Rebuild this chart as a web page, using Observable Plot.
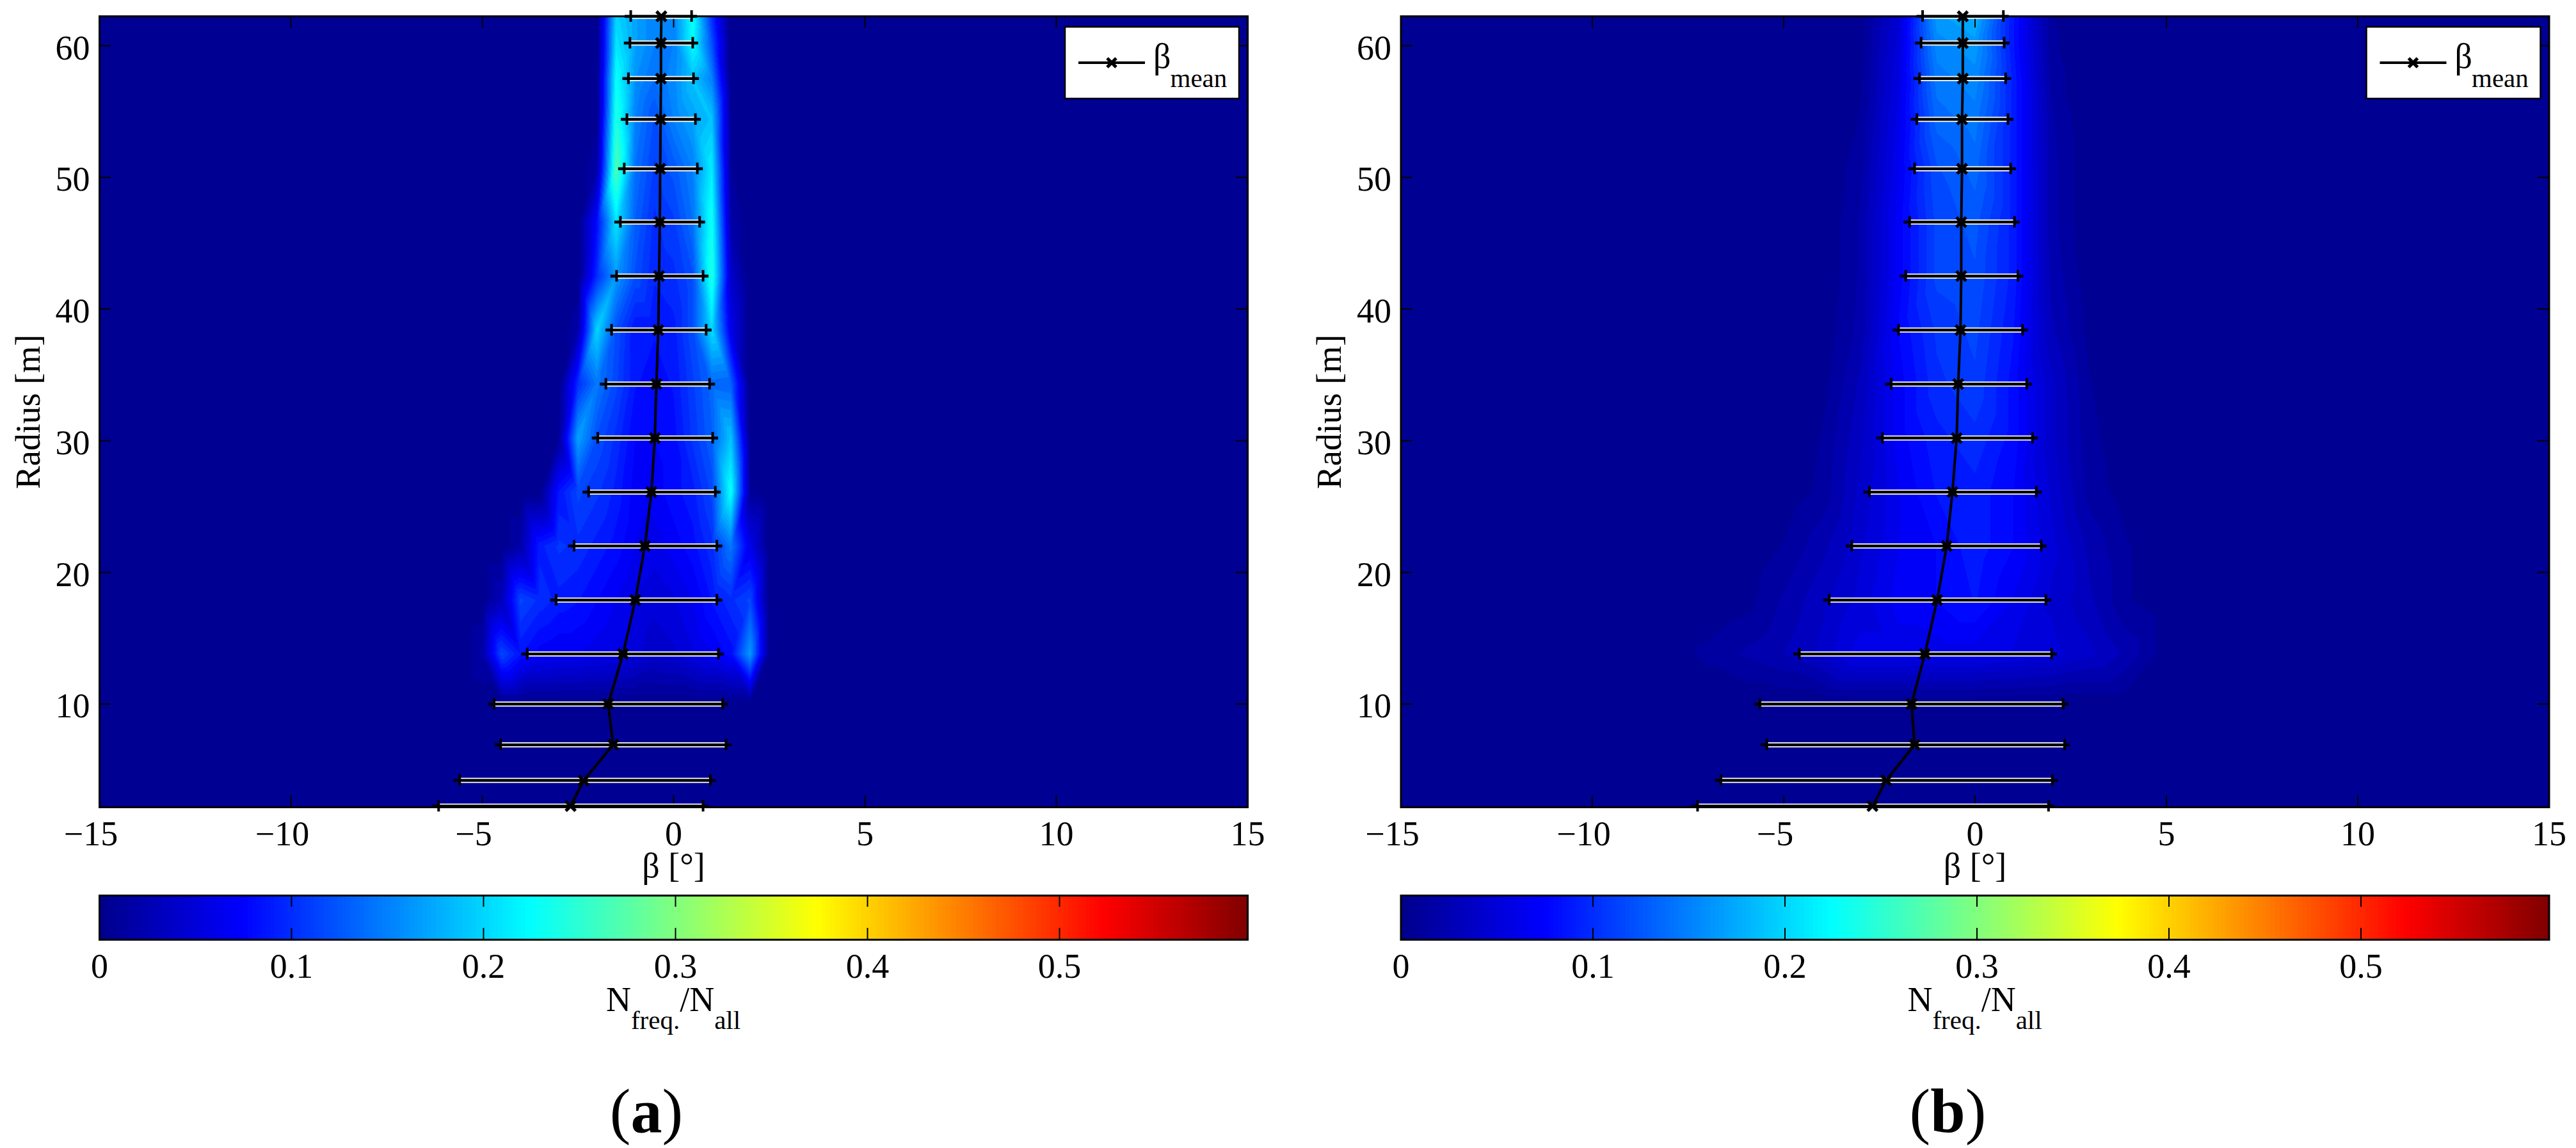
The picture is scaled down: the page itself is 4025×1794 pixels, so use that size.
<!DOCTYPE html>
<html>
<head>
<meta charset="utf-8">
<script src="https://cdn.jsdelivr.net/npm/d3@7"></script>
<script src="https://cdn.jsdelivr.net/npm/@observablehq/plot@0.6"></script>
<style>
  html, body { margin: 0; padding: 0; background: #fff; }
  #page { position: relative; width: 4025px; height: 1794px; overflow: hidden; background: #fff;
          font-family: "Liberation Serif", serif; color: #000; }
  .panel { position: absolute; top: 0; width: 1991px; height: 1794px; }
  .panel svg { position: absolute; left: 0; overflow: visible; }
  .nlabel { position: absolute; top: 1535px; font-size: 54px; line-height: 54px; text-align: center; white-space: nowrap; }
  .nlabel span { font-size: 41px; line-height: 0; vertical-align: -28px; }
  .cap { position: absolute; top: 1687px; font-size: 98px; line-height: 98px; text-align: center; white-space: nowrap; }
</style>
</head>
<body>
<div id="page"></div>
<script>
// ---------- data ----------
const radii = [62.23,60.2,57.5,54.4,50.65,46.6,42.5,38.4,34.3,30.2,26.1,22,17.9,13.8,10,6.9,4.2,2.25];

const meanA = [-0.32,-0.33,-0.33,-0.34,-0.35,-0.36,-0.38,-0.40,-0.45,-0.49,-0.58,-0.75,-1.00,-1.32,-1.71,-1.58,-2.35,-2.69];
const lowA  = [-1.12,-1.14,-1.18,-1.22,-1.29,-1.39,-1.49,-1.62,-1.77,-1.98,-2.22,-2.60,-3.07,-3.82,-4.69,-4.52,-5.59,-6.14];
const highA = [0.47,0.50,0.52,0.57,0.62,0.68,0.77,0.85,0.94,1.02,1.09,1.13,1.13,1.17,1.28,1.37,0.96,0.77];

const meanB = [-0.32,-0.32,-0.32,-0.34,-0.34,-0.36,-0.36,-0.38,-0.44,-0.48,-0.59,-0.74,-0.99,-1.31,-1.66,-1.58,-2.32,-2.68];
const lowB  = [-1.37,-1.41,-1.45,-1.52,-1.58,-1.71,-1.81,-2.00,-2.19,-2.42,-2.76,-3.22,-3.81,-4.59,-5.62,-5.44,-6.64,-7.25];
const highB = [0.74,0.76,0.80,0.86,0.93,1.03,1.12,1.24,1.35,1.50,1.60,1.73,1.85,2.00,2.30,2.34,2.02,1.92];

const betaBinsA = [-5,-4.5,-4,-3.5,-3,-2.5,-2,-1.5,-1,-0.5,0,0.5,1,1.5,2,2.5];
const freqA = [
  [0,0,0,0,0,0,0,.20,.17,.15,.15,.23,.10,0,0,0],
  [0,0,0,0,0,0,0,.21,.17,.15,.15,.225,.12,0,0,0],
  [0,0,0,0,0,0,.005,.23,.16,.14,.155,.19,.15,0,0,0],
  [0,0,0,0,0,0,.005,.245,.15,.12,.15,.17,.19,.01,0,0],
  [0,0,0,0,0,0,.02,.27,.14,.11,.125,.15,.215,.01,0,0],
  [0,0,0,0,0,0,.08,.21,.13,.10,.11,.14,.235,.02,0,0],
  [0,0,0,0,0,0,.10,.165,.12,.095,.10,.12,.245,.04,0,0],
  [0,0,0,0,0,.02,.20,.12,.085,.085,.09,.12,.205,.06,0,0],
  [0,0,0,0,0,.10,.145,.115,.085,.08,.085,.11,.135,.13,0,0],
  [0,0,0,0,.01,.17,.12,.10,.075,.075,.08,.105,.13,.19,.005,0],
  [0,0,0,0,.085,.115,.105,.09,.07,.07,.08,.09,.115,.23,.01,0],
  [0,0,.02,.09,.105,.10,.09,.08,.065,.06,.07,.08,.10,.145,.06,0],
  [0,.03,.115,.10,.09,.085,.075,.065,.055,.05,.055,.065,.085,.10,.115,0],
  [.02,.115,.085,.07,.065,.065,.06,.055,.05,.04,.045,.055,.065,.08,.165,.005],
  [.001,.002,.002,.002,.002,.002,.002,.002,.002,.002,.002,.002,.002,.002,.002,.001]
];
const edgeBinsA = [-15,-5.5,3,15];

const betaBinsB = [-8,-7,-6,-5,-4,-3,-2,-1,0,1,2,3,4,5];
const freqB = [
  [0,0,0,0,0,.004,.045,.165,.18,.085,.01,0,0,0],
  [0,0,0,0,0,.004,.05,.155,.165,.085,.012,0,0,0],
  [0,0,0,0,0,.006,.055,.145,.155,.09,.015,0,0,0],
  [0,0,0,0,0,.01,.06,.135,.145,.09,.02,0,0,0],
  [0,0,0,0,0,.015,.065,.12,.135,.09,.022,0,0,0],
  [0,0,0,0,0,.02,.07,.115,.125,.09,.022,0,0,0],
  [0,0,0,0,0,.02,.07,.115,.12,.09,.025,.003,0,0],
  [0,0,0,0,.003,.022,.075,.105,.115,.085,.03,.005,0,0],
  [0,0,0,0,.005,.03,.07,.10,.11,.08,.04,.01,.002,0],
  [0,0,0,0,.01,.035,.07,.09,.10,.08,.04,.012,.002,0],
  [0,0,0,.002,.012,.04,.065,.085,.09,.075,.045,.015,.004,0],
  [0,0,.001,.01,.025,.045,.065,.075,.09,.075,.05,.025,.01,.001],
  [0,0,.005,.02,.035,.05,.07,.075,.085,.065,.045,.03,.01,.003],
  [.004,.012,.02,.028,.04,.06,.06,.06,.06,.055,.05,.04,.025,.004],
  [0,.001,.001,.001,.001,.002,.002,.002,.002,.002,.002,.001,.001,0]
];
const edgeBinsB = [-15,-9,6,15];

const betaTicks = [-15,-10,-5,0,5,10,15];
const radiusTicks = [10,20,30,40,50,60];
const fractionTicks = [0,0.1,0.2,0.3,0.4,0.5];
const betaDomain = [-15,15];
const radiusDomain = [2.16,62.23];
const fractionDomain = [0,0.598];

// ---------- jet colour map ----------
const jet = d3.scaleLinear()
  .domain([0,0.125,0.375,0.625,0.875,1])
  .range(["#00008b","#0000ff","#00ffff","#ffff00","#ff0000","#800000"])
  .interpolate(d3.interpolateRgb);
const levels = 64;
const jetRange = d3.range(levels).map(i => jet((i + 0.5) / levels));
const jetThresholds = d3.range(1, levels).map(i => i / levels * fractionDomain[1]);

// ---------- helpers ----------
const font = {fontFamily: "'Liberation Serif', serif", fontSize: "54px", background: "transparent", color: "#000"};
const betaFormat = d => d < 0 ? "\u2212" + Math.abs(d) + "\u2002" : String(d);

function cells(bins, edges, rows) {
  const cols = [...bins.map((b, j) => ({b, j})), ...edges.map(b => ({b, j: -1}))];
  return radii.flatMap((r, i) => cols.map(({b, j}) => ({beta: b, r, v: j >= 0 ? (rows[i]?.[j] ?? 0) : 0})));
}

const legendMark = () => (index, scales, values, dims) => {
  const right = dims.width - dims.marginRight, top = dims.marginTop;
  const g = d3.create("svg:g");
  const x0 = right - 285;
  g.append("rect").attr("x", x0).attr("y", top + 17).attr("width", 272).attr("height", 112)
    .attr("fill", "white").attr("stroke", "black").attr("stroke-width", 2.5);
  g.append("line").attr("x1", x0 + 21).attr("x2", x0 + 125).attr("y1", top + 73).attr("y2", top + 73)
    .attr("stroke", "black").attr("stroke-width", 4);
  g.append("path").attr("d", `M${x0 + 66},${top + 66}l14,14M${x0 + 80},${top + 66}l-14,14`)
    .attr("stroke", "black").attr("stroke-width", 5).attr("fill", "none");
  const t = g.append("text").attr("x", x0 + 138).attr("y", top + 81).attr("fill", "black")
    .attr("font-size", 54).attr("text-anchor", "start");
  t.append("tspan").text("β");
  t.append("tspan").attr("font-size", 41).attr("dy", 30).attr("dx", -1).text("mean");
  return g.node();
};

function mainPlot(bins, edges, rows, mean, low, high, marginLeft, marginRight) {
  const H = 1236, W = 1794, T = 18;
  const bars = radii.map((r, i) => ({r, mean: mean[i], low: low[i], high: high[i]}));
  return Plot.plot({
    width: 1991, height: 1395,
    marginLeft, marginRight, marginTop: 25, marginBottom: 134,
    style: font,
    x: {domain: betaDomain, axis: null, label: null},
    y: {domain: radiusDomain, axis: null, label: null},
    color: {type: "threshold", domain: jetThresholds, range: jetRange, legend: false},
    marks: [
      Plot.raster(cells(bins, edges, rows), {x: "beta", y: "r", fill: "v", interpolate: "barycentric"}),
      Plot.ruleX(betaTicks, {stroke: "black", strokeWidth: 2, insetTop: H - T}),
      Plot.ruleX(betaTicks, {stroke: "black", strokeWidth: 2, insetBottom: H - T}),
      Plot.ruleY(radiusTicks, {stroke: "black", strokeWidth: 2, insetRight: W - T}),
      Plot.ruleY(radiusTicks, {stroke: "black", strokeWidth: 2, insetLeft: W - T}),
      Plot.axisX(betaTicks, {anchor: "bottom", tickSize: 0, tickPadding: 21, tickFormat: betaFormat,
        label: "β [°]", labelAnchor: "center", labelArrow: "none", labelOffset: 109}),
      Plot.axisY(radiusTicks, {anchor: "left", tickSize: 0, tickPadding: 15, dy: 4,
        label: "Radius [m]", labelAnchor: "center", labelArrow: "none", labelOffset: 132}),
      Plot.ruleY(bars, {y: "r", x1: "low", x2: "high", stroke: "white", strokeWidth: 8}),
      Plot.ruleY(bars, {y: "r", x1: "low", x2: "high", stroke: "black", strokeWidth: 4.5, insetLeft: -9, insetRight: -9}),
      Plot.ruleX(bars, {x: "low", y1: "r", y2: "r", stroke: "black", strokeWidth: 4, insetTop: -9, insetBottom: -9}),
      Plot.ruleX(bars, {x: "high", y1: "r", y2: "r", stroke: "black", strokeWidth: 4, insetTop: -9, insetBottom: -9}),
      Plot.line(bars, {x: "mean", y: "r", stroke: "black", strokeWidth: 4, curve: "linear"}),
      Plot.dot(bars, {x: "mean", y: "r", symbol: "times", r: 7, stroke: "black", strokeWidth: 5}),
      Plot.frame({stroke: "black", strokeWidth: 3}),
      legendMark()
    ]
  });
}

function colorbarPlot(marginLeft, marginRight) {
  const steps = d3.range(256);
  const maxV = fractionDomain[1];
  return Plot.plot({
    width: 1991, height: 150,
    marginLeft, marginRight, marginTop: 4, marginBottom: 77,
    style: font,
    x: {domain: fractionDomain, axis: null, label: null},
    y: {domain: [0, 1], axis: null, label: null},
    marks: [
      Plot.rect(steps, {x1: i => i / 256 * maxV, x2: i => Math.min(i + 1.5, 256) / 256 * maxV, y1: 0, y2: 1,
        fill: i => jet((i + 0.5) / 256), inset: 0}),
      Plot.ruleX(fractionTicks, {stroke: "black", strokeWidth: 2, insetTop: 51}),
      Plot.ruleX(fractionTicks, {stroke: "black", strokeWidth: 2, insetBottom: 51}),
      Plot.axisX(fractionTicks, {anchor: "bottom", tickSize: 0, tickPadding: 21, tickFormat: d => String(d), label: null}),
      Plot.frame({stroke: "black", strokeWidth: 3})
    ]
  });
}

function panel(left, marginLeft, marginRight, bins, edges, rows, mean, low, high, capLetter) {
  const page = document.getElementById("page");
  const div = document.createElement("div");
  div.className = "panel";
  div.style.left = left + "px";

  const main = mainPlot(bins, edges, rows, mean, low, high, marginLeft, marginRight);
  main.style.top = "0px";
  div.appendChild(main);

  const bar = colorbarPlot(marginLeft, marginRight);
  bar.style.top = "1395px";
  div.appendChild(bar);

  const n = document.createElement("div");
  n.className = "nlabel";
  n.style.left = marginLeft + "px";
  n.style.width = "1794px";
  n.innerHTML = "N<span>freq.</span>/N<span>all</span>";
  div.appendChild(n);

  const c = document.createElement("div");
  c.className = "cap";
  c.style.left = (marginLeft - 42) + "px";
  c.style.width = "1794px";
  c.innerHTML = "(<b>" + capLetter + "</b>)";
  div.appendChild(c);

  page.appendChild(div);
}

panel(0, 155, 42, betaBinsA, edgeBinsA, freqA, meanA, lowA, highA, "a");
panel(2034, 154.5, 42.5, betaBinsB, edgeBinsB, freqB, meanB, lowB, highB, "b");
</script>
</body>
</html>
